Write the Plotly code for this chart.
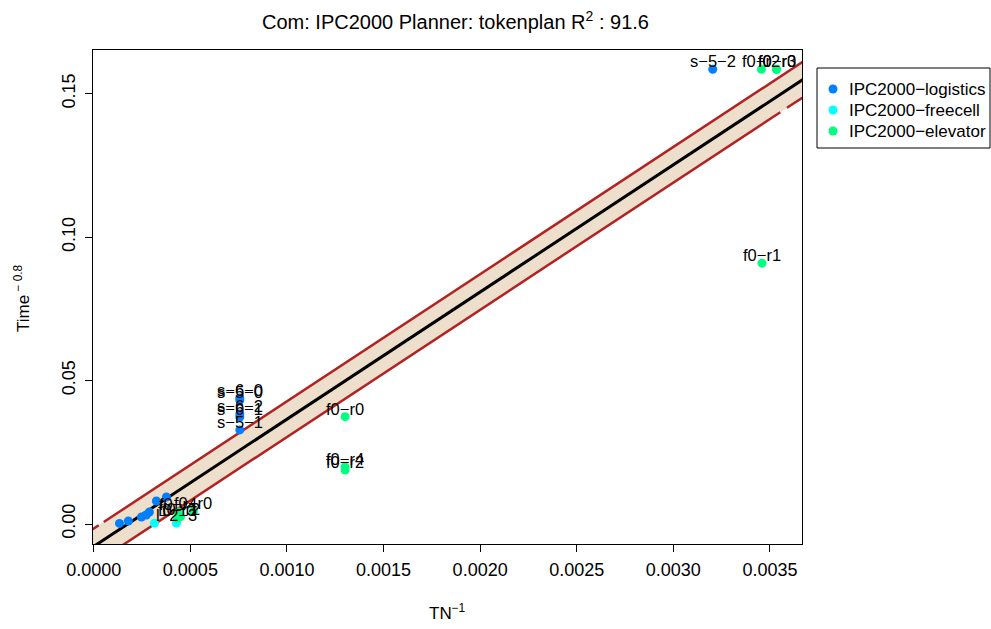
import plotly.graph_objects as go
import numpy as np

# ---- data: TN^-1 (x) vs Time^-0.8 (y), per domain ----
log_x = [0.000133, 0.000179, 0.000247, 0.000272, 0.000288, 0.000324, 0.000376,
         0.000756, 0.000756, 0.000756, 0.000756, 0.000756, 0.003204]
log_y = [0.0002, 0.00105, 0.00244, 0.00314, 0.00418, 0.0080, 0.0094,
         0.0439, 0.0432, 0.0383, 0.0373, 0.0328, 0.1585]
log_lab = ["", "", "", "", "", "", "",
           "s−6−0", "s−5−0", "s−6−2", "s−6−1", "s−5−1", "s−5−2"]

fc_x = [0.000314, 0.000428]
fc_y = [0.0003, 0.0003]
fc_lab = ["", "l−2−3"]

el_x = [0.000433, 0.000449, 0.000438, 0.000516, 0.001301, 0.001301, 0.001301,
        0.003456, 0.003534, 0.003534, 0.003459]
el_y = [0.00209, 0.00256, 0.0042, 0.00453, 0.0374, 0.0199, 0.0188,
        0.1585, 0.1585, 0.1585, 0.0909]
el_lab = ["f0−r3", "f0−r2", "f0−r4", "f0−r0", "f0−r0", "f0−r4", "f0−r2",
          "f0−r2", "f0−r0", "f0−r3", "f0−r1"]

series = [
    ("IPC2000−logistics", "#0080FF", log_x, log_y, log_lab),
    ("IPC2000−freecell", "#00FFFF", fc_x, fc_y, fc_lab),
    ("IPC2000−elevator", "#00FF80", el_x, el_y, el_lab),
]

# fitted regression and prediction band
fit_intercept = -0.0078
fit_slope = 44.33
band_half = 0.0062

x_range = [-0.000004, 0.003666]
y_range = [-0.00697, 0.1652]
x_ticks = [0.0, 0.0005, 0.0010, 0.0015, 0.0020, 0.0025, 0.0030, 0.0035]
y_ticks = [0.00, 0.05, 0.10, 0.15]

FONT = "Liberation Sans, Arial, Helvetica, sans-serif"
W, H = 991, 629
ML, MR, MT, MB = 93, 189, 50, 85
PW, PH = W - ML - MR, H - MT - MB


def px_x(p):
    return (p - ML) / PW


def px_y(p):
    return (H - MB - p) / PH


fx = np.array([x_range[0] - 0.0001, x_range[1] + 0.0001])
fy = fit_intercept + fit_slope * fx
upper = fy + band_half
lower = fy - band_half

fig = go.Figure()

# beige prediction band with its dashed red limits
fig.add_trace(go.Scatter(
    x=np.concatenate([fx, fx[::-1]]), y=np.concatenate([upper, lower[::-1]]),
    fill="toself", fillcolor="#EEDFCC", line=dict(width=0),
    mode="lines", hoverinfo="skip", showlegend=False))
fig.add_trace(go.Scatter(
    x=fx, y=upper, mode="lines",
    line=dict(color="#B22222", width=2.5, dash="30px,6px,3000px"),
    hoverinfo="skip", showlegend=False))
fig.add_trace(go.Scatter(
    x=fx, y=lower, mode="lines",
    line=dict(color="#B22222", width=2.5, dash="846px,8px,3000px"),
    hoverinfo="skip", showlegend=False))
fig.add_trace(go.Scatter(
    x=fx, y=fy, mode="lines", line=dict(color="black", width=3),
    hoverinfo="skip", showlegend=False))

annotations = []
shapes = []
for name, color, xs, ys, labs in series:
    fig.add_trace(go.Scatter(
        x=xs, y=ys, mode="markers", name=name, showlegend=False,
        marker=dict(color=color, size=9, line=dict(width=0))))
    for xv, yv, lab in zip(xs, ys, labs):
        if lab:
            annotations.append(dict(
                x=xv, y=yv, text=lab, showarrow=False, yshift=8,
                xanchor="center", yanchor="middle",
                font=dict(family=FONT, size=16.5, color="black")))

# legend box drawn in paper space
shapes.append(dict(type="rect", xref="paper", yref="paper",
                   x0=px_x(817), x1=px_x(990), y0=px_y(148), y1=px_y(68),
                   line=dict(color="black", width=1), fillcolor="white"))
for i, (name, color, *_rest) in enumerate(series):
    row_y = 89 + 21 * i
    shapes.append(dict(type="circle", xref="paper", yref="paper",
                       xsizemode="pixel", ysizemode="pixel",
                       xanchor=px_x(833), yanchor=px_y(row_y),
                       x0=-4.5, x1=4.5, y0=-4.5, y1=4.5,
                       fillcolor=color, line=dict(width=0)))
    annotations.append(dict(
        x=px_x(847), y=px_y(row_y), xref="paper", yref="paper",
        text=name, showarrow=False, xanchor="left", yanchor="middle",
        font=dict(family=FONT, size=17, color="black")))

# axis titles
annotations.append(dict(
    x=0.5, y=px_y(612), xref="paper", yref="paper",
    text="TN<sup>−1</sup>", showarrow=False, xanchor="center", yanchor="middle",
    font=dict(family=FONT, size=17, color="black")))
annotations.append(dict(
    x=px_x(22), y=px_y(298), xref="paper", yref="paper",
    text="Time<sup> − 0.8</sup>", showarrow=False, textangle=-90,
    xanchor="center", yanchor="middle",
    font=dict(family=FONT, size=17, color="black")))

fig.update_layout(
    width=W, height=H,
    margin=dict(l=ML, r=MR, t=MT, b=MB, autoexpand=False),
    paper_bgcolor="white", plot_bgcolor="white",
    font=dict(family=FONT, size=18, color="black"),
    title=dict(text="Com: IPC2000 Planner: tokenplan R<sup>2</sup> : 91.6",
               x=455.5 / W, xref="container", xanchor="center",
               y=1 - 22 / H, yref="container", yanchor="middle",
               font=dict(family=FONT, size=20, color="black")),
    annotations=annotations,
    shapes=shapes,
    showlegend=False,
)
fig.update_xaxes(
    range=x_range, tickvals=x_ticks, tickformat=".4f",
    showgrid=False, zeroline=False,
    showline=True, linecolor="black", linewidth=1, mirror=True,
    ticks="outside", ticklen=7, tickcolor="black", ticklabelstandoff=2,
    tickfont=dict(family=FONT, size=18),
)
fig.update_yaxes(
    range=y_range, tickvals=y_ticks, tickformat=".2f", tickangle=-90,
    showgrid=False, zeroline=False,
    showline=True, linecolor="black", linewidth=1, mirror=True,
    ticks="outside", ticklen=7, tickcolor="black", ticklabelstandoff=3,
    tickfont=dict(family=FONT, size=18),
)

fig.write_html("out.html")
